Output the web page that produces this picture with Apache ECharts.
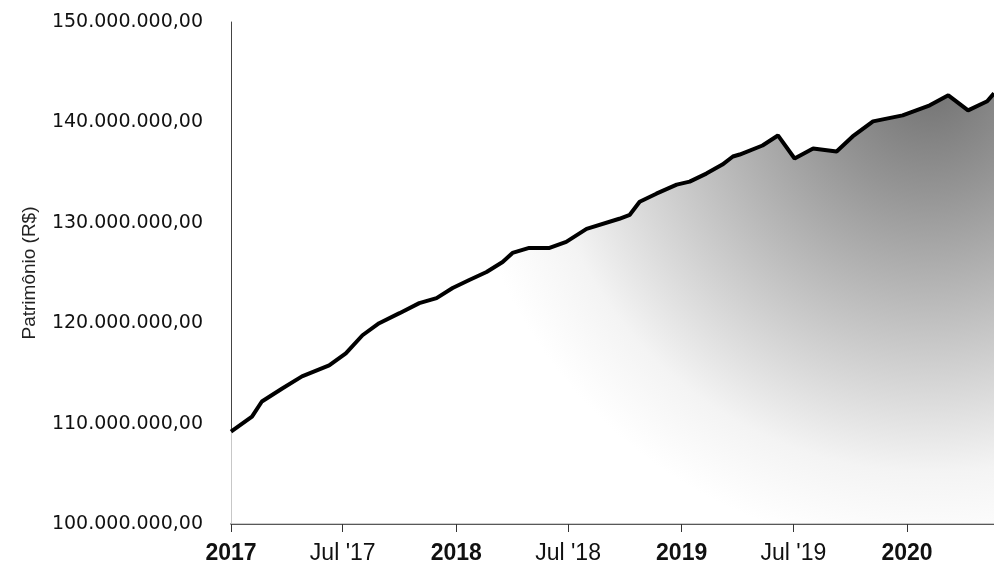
<!DOCTYPE html>
<html>
<head>
<meta charset="utf-8">
<script src="https://cdn.jsdelivr.net/npm/echarts@6/dist/echarts.min.js"></script>
<style>
  html, body { margin: 0; padding: 0; background: #fff; }
  #chart { width: 994px; height: 584px; }
</style>
</head>
<body>
<div id="chart"></div>
<script>
// datas das leituras e patrimônio em milhões de R$
const dates = [
  '2017-01-01', '2017-02-04', '2017-02-20', '2017-03-25', '2017-04-26', '2017-06-09',
  '2017-07-06', '2017-08-02', '2017-08-29', '2017-10-01', '2017-11-02', '2017-11-30',
  '2017-12-26', '2018-01-22', '2018-02-19', '2018-03-17', '2018-04-02', '2018-04-29',
  '2018-06-01', '2018-06-28', '2018-07-31', '2018-09-22', '2018-10-09', '2018-10-25',
  '2018-11-21', '2018-12-24', '2019-01-14', '2019-02-10', '2019-03-08', '2019-03-25',
  '2019-04-05', '2019-05-12', '2019-06-06', '2019-07-03', '2019-08-02', '2019-09-09',
  '2019-10-05', '2019-11-07', '2019-12-25', '2020-02-07', '2020-03-08', '2020-04-09',
  '2020-05-10', '2020-05-21'
]
const patrimonio = [
  109.2, 110.7, 112.2, 113.5, 114.7, 115.8,
  117.0, 118.8, 120.0, 121.0, 122.0, 122.5,
  123.5, 124.3, 125.1, 126.1, 127.0, 127.5,
  127.5, 128.1, 129.4, 130.4, 130.8, 132.1,
  132.9, 133.8, 134.1, 134.9, 135.8, 136.6,
  136.8, 137.7, 138.7, 136.4, 137.4, 137.1,
  138.6, 140.1, 140.7, 141.7, 142.7, 141.2,
  142.1, 142.9
]
const yMin = 100000000
const yMax = 150000000
const yStep = 10000000
const xStart = '2017-01-01'
const xEnd = '2020-05-21'

const DAY = 86400000

const fmtBRL = (v) => Math.round(v).toString().replace(/\B(?=(\d{3})+(?!\d))/g, '.') + ',00'

const chart = echarts.init(document.getElementById('chart'))

const option = {
  animation: false,
  grid: { left: 231, right: 0, top: 22, bottom: 60, containLabel: false },
  xAxis: {
    type: 'time',
    min: xStart,
    max: xEnd,
    minInterval: 182 * DAY,
    maxInterval: 182 * DAY,
    splitLine: { show: false },
    axisLine: { lineStyle: { color: '#222', width: 1.5 } },
    axisTick: { show: true, length: 8, lineStyle: { color: '#333' } },
    axisLabel: {
      showMaxLabel: false,
      margin: 18,
      fontFamily: 'Liberation Sans',
      fontSize: 23,
      color: '#111',
      formatter: (val) => {
        const d = new Date(val)
        const yy = d.getFullYear()
        if (d.getMonth() === 0) return '{b|' + yy + '}'
        return "Jul '" + String(yy).slice(2)
      },
      rich: {
        b: { fontFamily: 'Liberation Sans', fontSize: 23, fontWeight: 'bold', color: '#111' }
      }
    }
  },
  yAxis: {
    type: 'value',
    min: yMin,
    max: yMax,
    interval: yStep,
    name: 'Patrimônio (R$)',
    nameLocation: 'middle',
    nameRotate: 90,
    nameGap: 192,
    nameTextStyle: { fontFamily: 'Liberation Sans', fontSize: 19, color: '#222' },
    splitLine: { show: false },
    axisLine: { show: true, lineStyle: { color: '#444', width: 1 } },
    axisTick: { show: false },
    axisLabel: {
      margin: 28,
      fontFamily: 'DejaVu Sans',
      fontSize: 19,
      color: '#111',
      formatter: fmtBRL
    }
  },
  series: [
    {
      type: 'line',
      data: dates.map((d, i) => [d, patrimonio[i] * 1000000]),
      symbol: 'none',
      smooth: false,
      lineStyle: { color: '#000', width: 4 },
      areaStyle: {
        color: new echarts.graphic.RadialGradient(930, 80, 560, [
          { offset: 0, color: '#333333' },
          { offset: 0.2, color: '#666666' },
          { offset: 0.45, color: '#aaaaaa' },
          { offset: 0.7, color: '#eeeeee' },
          { offset: 0.85, color: '#ffffff' },
          { offset: 1, color: '#ffffff' }
        ], true)
      }
    }
  ]
}

chart.setOption(option)
</script>
</body>
</html>
